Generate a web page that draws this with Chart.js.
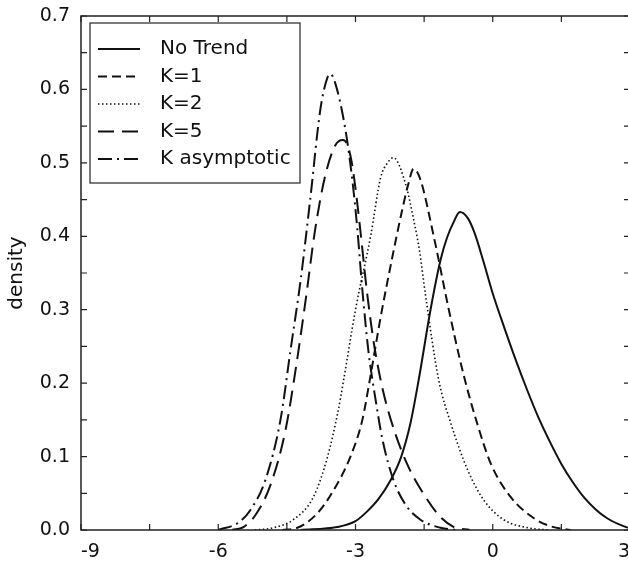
<!DOCTYPE html>
<html>
<head>
<meta charset="utf-8">
<script src="https://cdn.jsdelivr.net/npm/chart.js@4.4.1/dist/chart.umd.min.js"></script>
<style>
  html, body { margin:0; padding:0; background:#fff; overflow:hidden; }
  #wrap { width:640px; height:563px; position:relative; }
</style>
</head>
<body>
<div id="wrap"><canvas id="chartDensity"></canvas></div>
<script>
// values
const seriesLabels = ["No Trend", "K=1", "K=2", "K=5", "K asymptotic"];

const noTrendX = [-4.2, -3.4, -3.0, -2.75, -2.5, -2.23, -2.0, -1.8, -1.62, -1.36, -1.14, -1.0, -0.85, -0.72, -0.55, -0.4, -0.2, 0.0, 0.25, 0.5, 0.75, 1.0, 1.25, 1.5, 1.75, 2.0, 2.25, 2.5, 2.75, 3.0];
const noTrendY = [0.0, 0.004, 0.012, 0.025, 0.042, 0.068, 0.1, 0.145, 0.204, 0.3, 0.368, 0.398, 0.42, 0.433, 0.425, 0.405, 0.365, 0.322, 0.276, 0.232, 0.191, 0.153, 0.12, 0.09, 0.065, 0.044, 0.028, 0.016, 0.008, 0.002];

const k1X = [-4.6, -4.27, -3.83, -3.48, -3.11, -2.85, -2.7, -2.45, -2.2, -2.0, -1.85, -1.73, -1.58, -1.29, -0.96, -0.64, -0.33, -0.04, 0.39, 0.9, 1.27, 1.7];
const k1Y = [0.0, 0.003, 0.023, 0.054, 0.1, 0.15, 0.2, 0.29, 0.37, 0.43, 0.47, 0.492, 0.477, 0.4, 0.3, 0.212, 0.143, 0.09, 0.045, 0.016, 0.005, 0.0];

const k2X = [-5.2, -4.8, -4.36, -3.92, -3.61, -3.39, -3.26, -3.0, -2.67, -2.45, -2.3, -2.17, -1.9, -1.72, -1.6, -1.47, -1.18, -0.92, -0.55, -0.2, 0.24, 0.77, 1.2];
const k2Y = [0.0, 0.003, 0.014, 0.045, 0.1, 0.159, 0.204, 0.3, 0.4, 0.48, 0.5, 0.507, 0.47, 0.42, 0.38, 0.32, 0.204, 0.146, 0.082, 0.041, 0.014, 0.003, 0.0];

const k5X = [-5.7, -5.45, -5.19, -4.86, -4.53, -4.31, -4.09, -3.88, -3.66, -3.44, -3.28, -3.18, -3.08, -2.98, -2.88, -2.76, -2.6, -2.4, -2.15, -1.85, -1.5, -1.15, -0.85, -0.5];
const k5Y = [0.0, 0.004, 0.02, 0.061, 0.136, 0.218, 0.313, 0.41, 0.483, 0.524, 0.531, 0.525, 0.5, 0.455, 0.4, 0.33, 0.255, 0.19, 0.135, 0.087, 0.048, 0.018, 0.004, 0.0];

const asymX = [-6.0, -5.56, -5.3, -4.97, -4.64, -4.42, -4.2, -3.99, -3.77, -3.62, -3.55, -3.45, -3.22, -3.07, -2.96, -2.85, -2.72, -2.56, -2.41, -2.17, -1.9, -1.58, -1.14, -0.8];
const asymY = [0.0, 0.01, 0.027, 0.068, 0.15, 0.245, 0.34, 0.45, 0.572, 0.615, 0.621, 0.61, 0.545, 0.477, 0.41, 0.327, 0.245, 0.177, 0.123, 0.068, 0.034, 0.014, 0.003, 0.0];

const xTickLabels = [-9, -6, -3, 0, 3];
const xTickMarks = [-9, -7.5, -6, -4.5, -3, -1.5, 0, 1.5, 3];
const yTickMarks = [0, 0.05, 0.1, 0.15, 0.2, 0.25, 0.3, 0.35, 0.4, 0.45, 0.5, 0.55, 0.6, 0.65, 0.7];

const ink = "#111";

function pts(xs, ys){
  return xs.map((x, i) => ({ x, y: ys[i] }));
}

// inward ticks on all four sides plus the closed frame
const frameTicks = {
  id: "frameTicks",
  afterDraw(chart){
    const { ctx, chartArea: a, scales: { x, y } } = chart;
    ctx.save();
    ctx.strokeStyle = "#222";
    ctx.lineWidth = 1.5;
    ctx.strokeRect(a.left, a.top, a.right - a.left, a.bottom - a.top);
    ctx.lineWidth = 1.2;
    ctx.beginPath();
    xTickMarks.forEach(v => {
      const px = x.getPixelForValue(v);
      ctx.moveTo(px, a.bottom); ctx.lineTo(px, a.bottom - 6);
      ctx.moveTo(px, a.top); ctx.lineTo(px, a.top + 6);
    });
    yTickMarks.forEach(v => {
      const py = y.getPixelForValue(v);
      ctx.moveTo(a.left, py); ctx.lineTo(a.left + 6, py);
      ctx.moveTo(a.right, py); ctx.lineTo(a.right - 6, py);
    });
    ctx.stroke();
    ctx.restore();
  }
};

// boxed legend in the upper left of the plot
const legendBox = {
  id: "legendBox",
  afterDraw(chart){
    const ctx = chart.ctx;
    const a = chart.chartArea;
    const x0 = a.left + 9, y0 = a.top + 7, w = 210, h = 160;
    ctx.save();
    ctx.fillStyle = "#fff";
    ctx.fillRect(x0, y0, w, h);
    ctx.strokeStyle = "#222";
    ctx.lineWidth = 1.2;
    ctx.strokeRect(x0, y0, w, h);
    ctx.font = "20px 'DejaVu Sans'";
    ctx.textBaseline = "middle";
    chart.data.datasets.forEach((ds, i) => {
      const yy = y0 + 26 + i * 27.5;
      ctx.setLineDash(ds.borderDash || []);
      ctx.lineWidth = ds.borderWidth;
      ctx.strokeStyle = ds.borderColor;
      ctx.beginPath();
      ctx.moveTo(x0 + 8, yy);
      ctx.lineTo(x0 + 50, yy);
      ctx.stroke();
      ctx.setLineDash([]);
      ctx.fillStyle = ink;
      ctx.fillText(ds.label, x0 + 70, yy);
    });
    ctx.restore();
  }
};

function buildChart(){
  const ctx = document.getElementById("chartDensity");
  Chart.defaults.font.family = "'DejaVu Sans'";
  Chart.defaults.color = ink;

  const styles = [
    { dash: [], width: 2 },
    { dash: [9, 5], width: 2 },
    { dash: [1.5, 2.5], width: 1.6 },
    { dash: [16, 8], width: 2 },
    { dash: [14, 5, 2, 5], width: 2 }
  ];
  const series = [pts(noTrendX, noTrendY), pts(k1X, k1Y), pts(k2X, k2Y), pts(k5X, k5Y), pts(asymX, asymY)];

  new Chart(ctx, {
    type: "line",
    data: {
      datasets: series.map((data, i) => ({
        label: seriesLabels[i],
        data,
        borderColor: ink,
        borderWidth: styles[i].width,
        borderDash: styles[i].dash,
        pointRadius: 0,
        fill: false,
        cubicInterpolationMode: "monotone"
      }))
    },
    options: {
      responsive: true,
      maintainAspectRatio: false,
      animation: false,
      layout: { padding: { left: 0, top: 16, right: 10, bottom: 0 } },
      plugins: { legend: { display: false }, tooltip: { enabled: false } },
      scales: {
        x: {
          type: "linear",
          min: -9, max: 3,
          afterBuildTicks: s => { s.ticks = xTickLabels.map(v => ({ value: v })); },
          afterFit: s => { s.height = 33; },
          ticks: { font: { size: 19 }, padding: 3, maxRotation: 0, align: "inner" },
          grid: { display: false, drawTicks: true, tickLength: 8 },
          border: { display: false }
        },
        y: {
          min: 0, max: 0.7,
          afterFit: s => { s.width = 81; },
          ticks: { stepSize: 0.1, font: { size: 19 }, padding: 3, callback: v => v.toFixed(1) },
          grid: { display: false, drawTicks: true, tickLength: 8 },
          border: { display: false },
          title: { display: true, text: "density", font: { size: 20 }, padding: { top: 5, bottom: 1 } }
        }
      }
    },
    plugins: [frameTicks, legendBox]
  });
}

document.addEventListener("DOMContentLoaded", buildChart);
</script>
</body>
</html>
